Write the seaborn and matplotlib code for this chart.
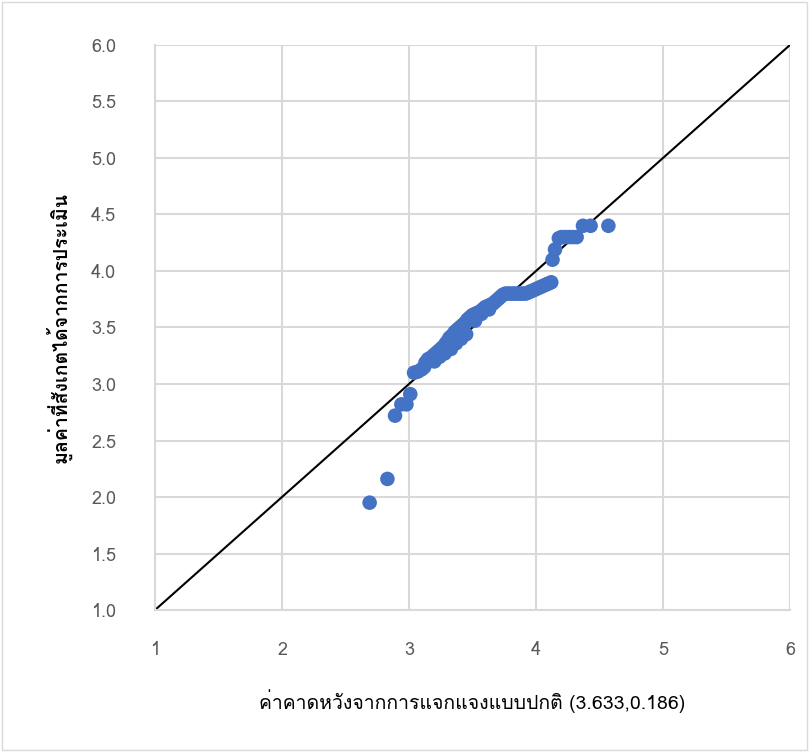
import numpy as np
import seaborn as sns
import matplotlib.pyplot as plt
from matplotlib import font_manager
from matplotlib.patches import Rectangle
from fontTools.ttLib import TTFont

expected = [2.69, 2.83, 2.89, 2.94, 2.98, 3.01,
            3.04, 3.07, 3.10, 3.12, 3.13, 3.15, 3.17, 3.19, 3.21, 3.23,
            3.25, 3.27, 3.29, 3.31, 3.32, 3.34, 3.36, 3.38, 3.40, 3.42,
            3.44, 3.46, 3.48, 3.50, 3.52, 3.54, 3.56, 3.58, 3.60, 3.62,
            3.64, 3.66, 3.68, 3.70, 3.72, 3.74, 3.76, 3.78, 3.80, 3.82,
            3.84, 3.86, 3.88, 3.90, 3.92, 3.94, 3.96, 3.98, 4.00, 4.02,
            4.04, 4.06, 4.08, 4.10, 4.12,
            3.20, 3.24, 3.28, 3.33, 3.37, 3.41, 3.45, 3.52, 3.57, 3.63,
            4.13, 4.15, 4.18, 4.20, 4.23, 4.26, 4.29, 4.32, 4.37, 4.43, 4.57]
observed = [1.95, 2.16, 2.72, 2.82, 2.82, 2.91,
            3.10, 3.11, 3.13, 3.15, 3.19, 3.22, 3.23, 3.25, 3.27, 3.29,
            3.31, 3.33, 3.36, 3.39, 3.41, 3.43, 3.46, 3.48, 3.50, 3.52,
            3.54, 3.57, 3.59, 3.61, 3.62, 3.63, 3.64, 3.66, 3.68, 3.69,
            3.70, 3.71, 3.73, 3.75, 3.77, 3.79, 3.80, 3.80, 3.80, 3.80,
            3.80, 3.80, 3.80, 3.80, 3.80, 3.81, 3.82, 3.83, 3.84, 3.85,
            3.86, 3.87, 3.88, 3.89, 3.90,
            3.20, 3.24, 3.27, 3.31, 3.36, 3.40, 3.44, 3.56, 3.62, 3.66,
            4.10, 4.19, 4.29, 4.30, 4.30, 4.30, 4.30, 4.30, 4.40, 4.40, 4.40]
ref_line = [1, 6]
ticks = [1, 2, 3, 4, 5, 6]
yticks = [1.0, 1.5, 2.0, 2.5, 3.0, 3.5, 4.0, 4.5, 5.0, 5.5, 6.0]


def thai_fonts():
    names = []
    for f in font_manager.fontManager.ttflist:
        try:
            cmap = TTFont(f.fname, fontNumber=0, lazy=True).getBestCmap()
        except Exception:
            continue
        if cmap and 0x0E04 in cmap and f.name not in names:
            names.append(f.name)
    return names


sns.set_theme(style="white")
found = thai_fonts()
plt.rcParams['font.family'] = found + ['DejaVu Sans']

fig = plt.figure(figsize=(8.09, 7.52), dpi=100)
ax = fig.add_axes([0.1916, 0.1888, 0.7849, 0.7514])

ax.plot(ref_line, ref_line, color="black", lw=1.5, zorder=2)
sns.scatterplot(x=expected, y=observed, ax=ax, color="#4472C4", s=110,
                edgecolor="none", zorder=3)

ax.set_xlim(1, 6)
ax.set_ylim(1, 6)
ax.set_xticks(ticks)
ax.set_yticks(yticks)
ax.set_yticklabels([f"{v:.1f}" for v in yticks])
ax.grid(True, color="#d9d9d9", lw=1.5)
ax.set_axisbelow(True)
for s in ["top", "right"]:
    ax.spines[s].set_visible(False)
for s in ["left", "bottom"]:
    ax.spines[s].set_color("#d9d9d9")
    ax.spines[s].set_linewidth(1.5)
ax.tick_params(axis="both", length=0, labelsize=13, colors="#595959")
ax.tick_params(axis="x", pad=22)
ax.tick_params(axis="y", pad=28)

ax.set_xlabel("ค่าคาดหวังจากการแจกแจงแบบปกติ (3.633,0.186)", fontsize=14,
              color="black", labelpad=22)
ax.set_ylabel("มูลค่าที่สังเกตได้จากการประเมิน", fontsize=14, color="black",
              fontweight="bold", labelpad=14)

fig.patches.append(Rectangle((0.002, 0.003), 0.995, 0.994, transform=fig.transFigure,
                             fill=False, edgecolor="#d9d9d9", lw=1))

fig.savefig("out.png", dpi=100)
